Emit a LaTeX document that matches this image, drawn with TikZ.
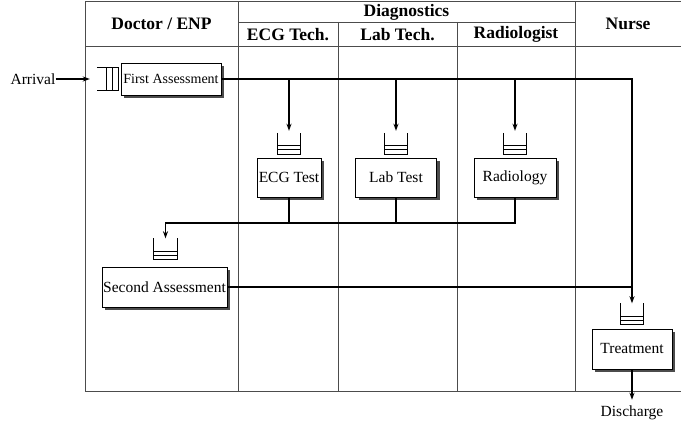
\documentclass[tikz,border=0pt]{standalone}
\usepackage{fontspec}
\setmainfont{Liberation Serif}
\usetikzlibrary{arrows.meta, positioning, calc, shadows}

\begin{document}
\begin{tikzpicture}[x=1pt, y=-1pt, >={Stealth[length=7pt,width=5pt]},
  lane/.style={line width=0.9pt, black!70},
  head/.style={font=\fontsize{17.5}{20}\selectfont\bfseries, inner sep=0pt},
  lbl/.style={font=\fontsize{15.5}{18}\selectfont, inner sep=0pt},
  box/.style={draw, line width=0.8pt, fill=white, inner sep=1pt, minimum height=39pt,
    font=\fontsize{15.5}{18}\selectfont,
    drop shadow={shadow xshift=3pt, shadow yshift=-3pt, fill=black!70, opacity=1}},
  buf/.style={inner sep=0pt, minimum width=23pt, minimum height=21pt},
  flow/.style={line width=1.2pt}]
  \useasboundingbox (0,0) rectangle (681,427);

  % === SWIMLANES ===
  \draw[lane] (85,1.5) -- (681,1.5);
  \draw[lane] (238,22) -- (575,22);
  \draw[lane] (85,46) -- (681,46);
  \draw[lane] (85,391) -- (681,391);
  \foreach \x in {85, 238, 575} \draw[lane] (\x,1.5) -- (\x,391);
  \foreach \x in {338, 457} \draw[lane] (\x,22) -- (\x,391);

  \node[head] (hdoc) at (161.5,24) {Doctor / ENP};
  \node[head] (hdiag) at (406.5,12) {Diagnostics};
  \node[head] (hecg) at (288,34.5) {ECG Tech.};
  \node[head] (hlab) at (397.5,34.5) {Lab Tech.};
  \node[head] (hrad) at (516,34.5) {Radiologist};
  \node[head] (hnur) at (628,24) {Nurse};

  % === STATIONS ===
  \node[lbl] (arr) at (33,79) {Arrival};
  \node[buf, minimum width=21pt, minimum height=23pt] (qfa) at (107.5,79) {};
  \node[box, minimum width=100pt, minimum height=32pt, font=\fontsize{14}{16}\selectfont] (fa) at (171,79) {First Assessment};

  \node[buf] (qecg) at (289,143.5) {};
  \node[buf] (qlab) at (396,143.5) {};
  \node[buf] (qrad) at (515,143.5) {};
  \node[box, minimum width=64pt] (ecg) at (289,177.5) {ECG Test};
  \node[box, minimum width=81pt] (lab) at (396,177.5) {Lab Test};
  \node[box, minimum width=82pt] (rad) at (515,177.5) {Radiology};

  \node[buf] (qsa) at (165.5,249) {};
  \node[box, minimum width=125pt, minimum height=40pt] (sa) at (164.5,287) {Second Assessment};

  \node[buf] (qtr) at (632,314) {};
  \node[box, minimum width=80pt, minimum height=40pt] (tr) at (632,349) {Treatment};
  \node[lbl] (dis) at (632,413) {Discharge};
  \coordinate (merge) at (0,223);

  % buffers
  \foreach \q in {qecg, qlab, qrad, qsa, qtr} {
    \draw[line width=0.8pt] (\q.north west) -- (\q.south west) -- (\q.south east) -- (\q.north east);
    \draw[line width=0.6pt] ($(\q.south west)!0.22!(\q.north west)$) -- ($(\q.south east)!0.22!(\q.north east)$);
    \draw[line width=0.6pt] ($(\q.south west)!0.4!(\q.north west)$) -- ($(\q.south east)!0.4!(\q.north east)$);
  }
  \draw[line width=0.8pt] (qfa.north west) -- (qfa.north east) -- (qfa.south east) -- (qfa.south west);
  \foreach \f in {0.44, 0.71}
    \draw[line width=0.6pt] ($(qfa.north west)!\f!(qfa.north east)$) -- ($(qfa.south west)!\f!(qfa.south east)$);

  % === FLOWS ===
  \draw[flow, ->, shorten >=7pt] (arr) -- (qfa.west);
  \draw[flow, ->] (fa.east) -| (qtr.north);
  \foreach \q in {qecg, qlab, qrad}
    \draw[flow, ->, shorten >=2pt] (fa.east -| \q.north) -- (\q.north);
  \draw[flow] (sa.east) -- (sa.east -| qtr.north);
  \foreach \b in {ecg, lab}
    \draw[flow] (\b.south) -- (\b.south |- merge);
  \draw[flow, ->] (rad.south) -- (rad.south |- merge) -| (qsa.north);
  \draw[flow, ->, shorten >=6pt] (tr.south) -- (dis.north);
\end{tikzpicture}
\end{document}
